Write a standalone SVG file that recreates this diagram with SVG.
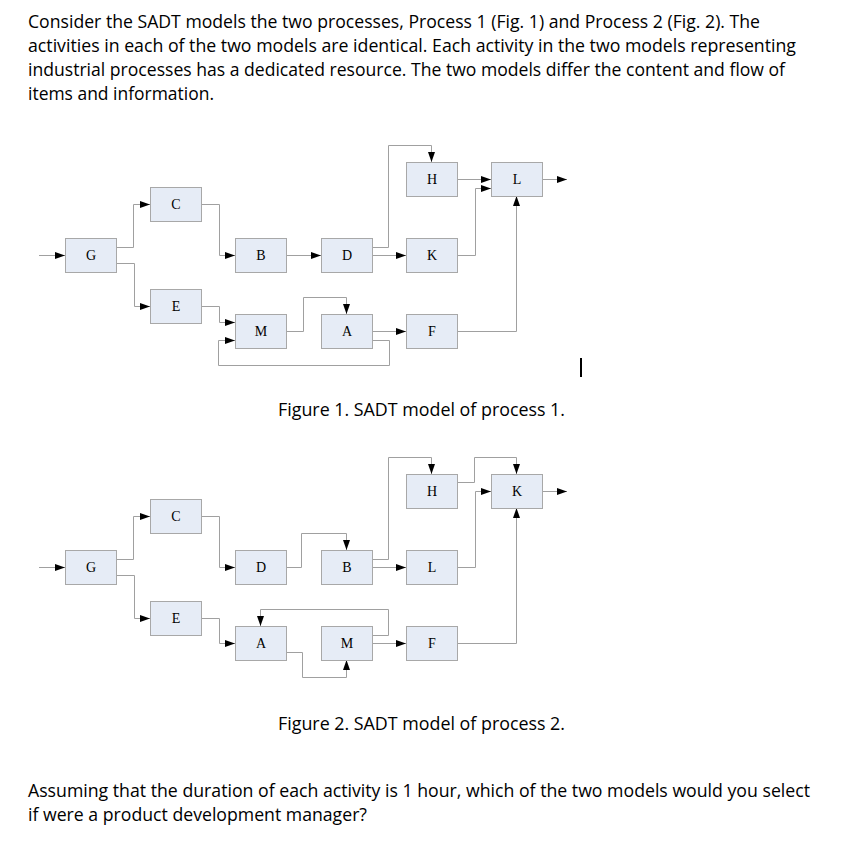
<svg xmlns="http://www.w3.org/2000/svg" width="866" height="868" viewBox="0 0 866 868">
<style>
.box{fill:#E6ECF6;stroke:#A8A8A8;stroke-width:1}
.lbl{font-family:"Liberation Serif","Times New Roman",serif;font-size:14px;fill:#000;text-anchor:middle}
.c{fill:none;stroke:#A0A0A0;stroke-width:1;marker-end:url(#ah)}
.t{font-family:"Open Sans","Noto Sans","Liberation Sans",sans-serif;font-size:18px;fill:#000}
</style>
<defs>
<marker id="ah" markerUnits="userSpaceOnUse" markerWidth="10" markerHeight="7" refX="10" refY="3.5" orient="auto">
<path d="M0,0 L10,3.5 L0,7 z" fill="#000"/>
</marker>
</defs>
<rect width="866" height="868" fill="#fff"/>
<g id="intro">
<text class="t" x="28" y="28" textLength="732" lengthAdjust="spacingAndGlyphs">Consider the SADT models the two processes, Process 1 (Fig. 1) and Process 2 (Fig. 2). The</text>
<text class="t" x="28" y="52" textLength="768" lengthAdjust="spacingAndGlyphs">activities in each of the two models are identical. Each activity in the two models representing</text>
<text class="t" x="28" y="76" textLength="757" lengthAdjust="spacingAndGlyphs">industrial processes has a dedicated resource. The two models differ the content and flow of</text>
<text class="t" x="28" y="100" textLength="186" lengthAdjust="spacingAndGlyphs">items and information.</text>
</g>
<g id="fig1-connectors">
<path class="c" d="M39,255.5 H65"/>
<path class="c" d="M117,247.5 H133.5 V204.5 H150"/>
<path class="c" d="M117,263.5 H134.5 V306.5 H150"/>
<path class="c" d="M202,204.5 H219.5 V255.5 H235"/>
<path class="c" d="M202,306.5 H219.5 V322.5 H235"/>
<path class="c" d="M287,255.5 H321"/>
<path class="c" d="M287,331.5 H303.5 V297.5 H346.5 V314"/>
<path class="c" d="M372,340.5 H389.5 V365.5 H218.5 V340.5 H235"/>
<path class="c" d="M372,331.5 H406"/>
<path class="c" d="M372,247.5 H388.5 V145.5 H431.5 V162"/>
<path class="c" d="M372,255.5 H406"/>
<path class="c" d="M458,179.5 H491"/>
<path class="c" d="M458,255.5 H475.5 V188.5 H491"/>
<path class="c" d="M458,331.5 H516.5 V196"/>
<path class="c" d="M543,179.5 H567"/>
</g>
<g id="fig1-G"><rect class="box" x="65.5" y="238.5" width="51" height="34"/><text class="lbl" x="91" y="260">G</text></g>
<g id="fig1-C"><rect class="box" x="150.5" y="187.5" width="51" height="34"/><text class="lbl" x="176" y="209">C</text></g>
<g id="fig1-E"><rect class="box" x="150.5" y="289.5" width="51" height="34"/><text class="lbl" x="176" y="311">E</text></g>
<g id="fig1-B"><rect class="box" x="235.5" y="238.5" width="51" height="34"/><text class="lbl" x="261" y="260">B</text></g>
<g id="fig1-M"><rect class="box" x="235.5" y="314.5" width="51" height="34"/><text class="lbl" x="261" y="336">M</text></g>
<g id="fig1-D"><rect class="box" x="321.5" y="238.5" width="51" height="34"/><text class="lbl" x="347" y="260">D</text></g>
<g id="fig1-A"><rect class="box" x="321.5" y="314.5" width="51" height="34"/><text class="lbl" x="347" y="336">A</text></g>
<g id="fig1-H"><rect class="box" x="406.5" y="162.5" width="51" height="34"/><text class="lbl" x="432" y="184">H</text></g>
<g id="fig1-K"><rect class="box" x="406.5" y="238.5" width="51" height="34"/><text class="lbl" x="432" y="260">K</text></g>
<g id="fig1-F"><rect class="box" x="406.5" y="314.5" width="51" height="34"/><text class="lbl" x="432" y="336">F</text></g>
<g id="fig1-L"><rect class="box" x="491.5" y="162.5" width="51" height="34"/><text class="lbl" x="517" y="184">L</text></g>
<line x1="581" y1="358" x2="581" y2="377" stroke="#000" stroke-width="2"/>
<text class="t" x="278" y="416" textLength="287" lengthAdjust="spacingAndGlyphs">Figure 1. SADT model of process 1.</text>
<g id="fig2-connectors">
<path class="c" d="M39,567.5 H65"/>
<path class="c" d="M117,559.5 H133.5 V516.5 H150"/>
<path class="c" d="M117,575.5 H134.5 V618.5 H150"/>
<path class="c" d="M202,516.5 H219.5 V567.5 H235"/>
<path class="c" d="M202,618.5 H219.5 V643.5 H235"/>
<path class="c" d="M287,567.5 H301.5 V533.5 H346.5 V550"/>
<path class="c" d="M287,652.5 H302.5 V677.5 H346.5 V660"/>
<path class="c" d="M372,635.5 H388.5 V609.5 H260.5 V626"/>
<path class="c" d="M372,643.5 H406"/>
<path class="c" d="M372,559.5 H388.5 V457.5 H431.5 V474"/>
<path class="c" d="M372,567.5 H406"/>
<path class="c" d="M458,482.5 H474.5 V457.5 H516.5 V474"/>
<path class="c" d="M458,567.5 H475.5 V491.5 H491"/>
<path class="c" d="M458,643.5 H516.5 V508"/>
<path class="c" d="M543,491.5 H567"/>
</g>
<g id="fig2-G"><rect class="box" x="65.5" y="550.5" width="51" height="34"/><text class="lbl" x="91" y="572">G</text></g>
<g id="fig2-C"><rect class="box" x="150.5" y="499.5" width="51" height="34"/><text class="lbl" x="176" y="521">C</text></g>
<g id="fig2-E"><rect class="box" x="150.5" y="601.5" width="51" height="34"/><text class="lbl" x="176" y="623">E</text></g>
<g id="fig2-D"><rect class="box" x="235.5" y="550.5" width="51" height="34"/><text class="lbl" x="261" y="572">D</text></g>
<g id="fig2-A"><rect class="box" x="235.5" y="626.5" width="51" height="34"/><text class="lbl" x="261" y="648">A</text></g>
<g id="fig2-B"><rect class="box" x="321.5" y="550.5" width="51" height="34"/><text class="lbl" x="347" y="572">B</text></g>
<g id="fig2-M"><rect class="box" x="321.5" y="626.5" width="51" height="34"/><text class="lbl" x="347" y="648">M</text></g>
<g id="fig2-H"><rect class="box" x="406.5" y="474.5" width="51" height="34"/><text class="lbl" x="432" y="496">H</text></g>
<g id="fig2-L"><rect class="box" x="406.5" y="550.5" width="51" height="34"/><text class="lbl" x="432" y="572">L</text></g>
<g id="fig2-F"><rect class="box" x="406.5" y="626.5" width="51" height="34"/><text class="lbl" x="432" y="648">F</text></g>
<g id="fig2-K"><rect class="box" x="491.5" y="474.5" width="51" height="34"/><text class="lbl" x="517" y="496">K</text></g>
<text class="t" x="278" y="730" textLength="287" lengthAdjust="spacingAndGlyphs">Figure 2. SADT model of process 2.</text>
<g id="question">
<text class="t" x="28" y="797" textLength="782" lengthAdjust="spacingAndGlyphs">Assuming that the duration of each activity is 1 hour, which of the two models would you select</text>
<text class="t" x="28" y="821" textLength="339" lengthAdjust="spacingAndGlyphs">if were a product development manager?</text>
</g>
</svg>
